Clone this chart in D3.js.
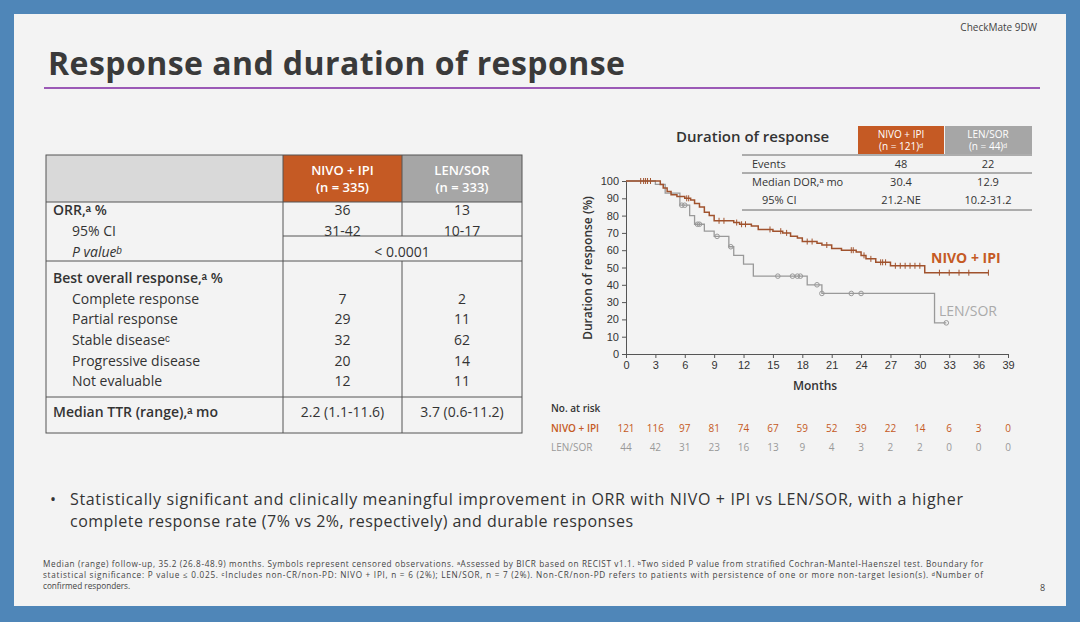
<!DOCTYPE html><html><head><meta charset="utf-8"><script src="https://cdn.jsdelivr.net/npm/d3@7"></script>
<style>body{margin:0;background:#4f86b8}svg{display:block;font-family:"Open Sans",sans-serif}</style></head><body><svg id="s" width="1080" height="622"></svg>
<script>
const nivoKM=[[0,100],[3.5,98],[3.8,96],[4.2,94],[4.6,92],[5.2,91],[6,90],[6.6,89],[7,87],[7.5,85],[8,82],[8.5,80],[9,77],[11,76],[11.6,75],[12.8,74],[13.5,72],[15,71],[16,70],[16.8,68],[17.5,67],[18,65],[19.5,64],[20,63],[21,61],[22,60],[23.5,59],[24,57],[24.5,55],[25.5,53],[27,51],[30.5,47],[37,47]];
const lenKM=[[0,100],[3,98],[4,93],[5.5,86],[6.5,80],[7,75],[8,71],[9,68],[10.5,62],[11,57],[12,52],[13,45],[18.5,40],[20,35],[31.5,18],[32.7,18]];
const nivoCens=[1.5,1.8,2,2.2,2.5,6.2,6.4,9.5,10,11.3,11.8,12.2,14.7,15.8,16.4,18.5,19,20.5,23,23.2,24.3,25,26,26.2,26.5,27.5,28,28.5,29,29.5,30,32,33,34,35,37];
const lenCens=[5.7,6,7.3,7.5,9.3,10.7,15.5,17,17.5,17.8,19.5,20,23,24,32.7];
const xTicks=d3.range(0,40,3), yTicks=d3.range(0,101,10);
const atRiskNivo=[121,116,97,81,74,67,59,52,39,22,14,6,3,0];
const atRiskLen=[44,42,31,23,16,13,9,4,3,2,2,0,0,0];
const rowLabels=["ORR,ᵃ %","95% CI","P valueᵇ","Best overall response,ᵃ %","Complete response","Partial response","Stable diseaseᶜ","Progressive disease","Not evaluable","Median TTR (range),ᵃ mo"];
const nivoVals=["36","31-42","< 0.0001","","7","29","32","20","12","2.2 (1.1-11.6)"];
const lenVals=["13","10-17","","","2","11","62","14","11","3.7 (0.6-11.2)"];
const OR="#c55a24", GR="#a6a6a6";
const s=d3.select("#s");
s.append("rect").attr("x",14).attr("y",14).attr("width",1052).attr("height",592).attr("fill","#f3f3f3");
s.append("text").attr("x",1037).attr("y",31).attr("text-anchor","end").attr("font-size",10).attr("fill","#444").text("CheckMate 9DW");
s.append("text").attr("x",48).attr("y",75).attr("font-size",32).attr("font-weight",700).attr("fill","#3a3a3a").attr("textLength",577).text("Response and duration of response");
s.append("line").attr("x1",44).attr("x2",1040).attr("y1",88).attr("y2",88).attr("stroke","#9b59b6").attr("stroke-width",2);
// table
s.append("rect").attr("x",283).attr("y",155).attr("width",119).attr("height",47).attr("fill",OR);
s.append("rect").attr("x",402).attr("y",155).attr("width",120).attr("height",47).attr("fill",GR);
s.append("rect").attr("x",46).attr("y",155).attr("width",237).attr("height",47).attr("fill","#d9d9d9");
[["NIVO + IPI",342.5],["LEN/SOR",462]].forEach((d,i)=>{
 s.append("text").attr("x",d[1]).attr("y",175).attr("text-anchor","middle").attr("font-size",13).attr("font-weight",600).attr("fill","#fff").text(d[0]);
 s.append("text").attr("x",d[1]).attr("y",192).attr("text-anchor","middle").attr("font-size",13).attr("font-weight",600).attr("fill","#fff").text(i?"(n = 333)":"(n = 335)");});
const g=s.append("g").attr("stroke","#555").attr("stroke-width",1);
g.append("rect").attr("x",46).attr("y",155).attr("width",476).attr("height",278).attr("fill","none");
[202,261,397].forEach(y=>g.append("line").attr("x1",46).attr("x2",522).attr("y1",y).attr("y2",y));
g.append("line").attr("x1",283).attr("x2",283).attr("y1",155).attr("y2",433);
g.append("line").attr("x1",402).attr("x2",402).attr("y1",155).attr("y2",236);
g.append("line").attr("x1",283).attr("x2",522).attr("y1",236).attr("y2",236);
g.append("line").attr("x1",402).attr("x2",402).attr("y1",261).attr("y2",433);
const ry=[218,239,260,286,307,327,348,369,389,420];
rowLabels.forEach((l,i)=>{
 const head=[0,3,9].includes(i);
 s.append("text").attr("x",head?53:72).attr("y",ry[i]-3).attr("font-size",14).attr("font-weight",head?600:400).attr("fill","#333").attr("font-style",i==2?"italic":null).text(l);
 if(i==2){s.append("text").attr("x",402).attr("y",ry[i]-3).attr("text-anchor","middle").attr("font-size",14).attr("fill","#333").text(nivoVals[i]);}
 else{s.append("text").attr("x",342.5).attr("y",ry[i]-3).attr("text-anchor","middle").attr("font-size",14).attr("fill","#333").text(nivoVals[i]);
 s.append("text").attr("x",462).attr("y",ry[i]-3).attr("text-anchor","middle").attr("font-size",14).attr("fill","#333").text(lenVals[i]);}
});
// KM
const x=d3.scaleLinear().domain([0,39]).range([626,1008]), y=d3.scaleLinear().domain([0,100]).range([354,181]);
s.append("g").attr("transform","translate(0,354)").call(d3.axisBottom(x).tickValues(xTicks).tickSize(4)).call(a=>a.selectAll("text").attr("font-size",11).attr("fill","#333"));
s.append("g").attr("transform","translate(626,0)").call(d3.axisLeft(y).tickValues(yTicks).tickSize(4)).call(a=>a.selectAll("text").attr("font-size",11).attr("fill","#333"));
s.selectAll(".domain,.tick line").attr("stroke","#555");
s.append("text").attr("x",815).attr("y",390).attr("text-anchor","middle").attr("font-size",12).attr("font-weight",600).attr("fill","#333").text("Months");
s.append("text").attr("transform","translate(592,268) rotate(-90)").attr("text-anchor","middle").attr("font-size",12).attr("font-weight",600).attr("fill","#333").text("Duration of response (%)");
const line=d3.line().x(d=>x(d[0])).y(d=>y(d[1])).curve(d3.curveStepAfter);
const step=(km,t)=>{let v=100;km.forEach(d=>{if(d[0]<=t)v=d[1]});return v;};
s.append("path").attr("d",line(lenKM)).attr("fill","none").attr("stroke","#999").attr("stroke-width",1.3);
lenCens.forEach(t=>s.append("circle").attr("cx",x(t)).attr("cy",y(step(lenKM,t))).attr("r",2.3).attr("fill","none").attr("stroke","#999"));
s.append("path").attr("d",line(nivoKM)).attr("fill","none").attr("stroke","#a0522d").attr("stroke-width",1.5);
nivoCens.forEach(t=>s.append("line").attr("x1",x(t)).attr("x2",x(t)).attr("y1",y(step(nivoKM,t))-3).attr("y2",y(step(nivoKM,t))+3).attr("stroke","#a0522d"));
s.append("text").attr("x",931).attr("y",263).attr("font-size",14).attr("font-weight",700).attr("fill",OR).text("NIVO + IPI");
s.append("text").attr("x",939).attr("y",316).attr("font-size",14).attr("fill","#aaa").text("LEN/SOR");
// DOR table
s.append("text").attr("x",676).attr("y",142).attr("font-size",15).attr("font-weight",600).attr("fill","#333").text("Duration of response");
s.append("rect").attr("x",858).attr("y",126).attr("width",86).attr("height",28).attr("fill",OR);
s.append("rect").attr("x",945).attr("y",126).attr("width",87).attr("height",28).attr("fill",GR);
[["NIVO + IPI","(n = 121)ᵈ",901],["LEN/SOR","(n = 44)ᵈ",988]].forEach(d=>{
 s.append("text").attr("x",d[2]).attr("y",138).attr("text-anchor","middle").attr("font-size",10).attr("fill","#fff").text(d[0]);
 s.append("text").attr("x",d[2]).attr("y",150).attr("text-anchor","middle").attr("font-size",10).attr("fill","#fff").text(d[1]);});
[155,173,210].forEach(yy=>s.append("line").attr("x1",742).attr("x2",1032).attr("y1",yy).attr("y2",yy).attr("stroke","#666"));
[["Events","48","22",168,752],["Median DOR,ᵃ mo","30.4","12.9",186,752],["95% CI","21.2-NE","10.2-31.2",204,762]].forEach(r=>{
 s.append("text").attr("x",r[4]).attr("y",r[3]).attr("font-size",11).attr("fill","#333").text(r[0]);
 s.append("text").attr("x",901).attr("y",r[3]).attr("text-anchor","middle").attr("font-size",11).attr("fill","#333").text(r[1]);
 s.append("text").attr("x",988).attr("y",r[3]).attr("text-anchor","middle").attr("font-size",11).attr("fill","#333").text(r[2]);});
// at risk
s.append("text").attr("x",551).attr("y",412).attr("font-size",10).attr("font-weight",600).attr("fill","#333").text("No. at risk");
s.append("text").attr("x",551).attr("y",432).attr("font-size",10).attr("font-weight",600).attr("fill",OR).text("NIVO + IPI");
s.append("text").attr("x",551).attr("y",451).attr("font-size",10).attr("fill","#999").text("LEN/SOR");
atRiskNivo.forEach((v,i)=>s.append("text").attr("x",x(xTicks[i])).attr("y",432).attr("text-anchor","middle").attr("font-size",10).attr("fill",OR).text(v));
atRiskLen.forEach((v,i)=>s.append("text").attr("x",x(xTicks[i])).attr("y",451).attr("text-anchor","middle").attr("font-size",10).attr("fill","#999").text(v));
// bullet
s.append("text").attr("x",50).attr("y",505).attr("font-size",16).attr("fill","#333").text("•");
s.append("text").attr("x",70).attr("y",505).attr("font-size",16).attr("fill","#333").attr("textLength",893).text("Statistically significant and clinically meaningful improvement in ORR with NIVO + IPI vs LEN/SOR, with a higher");
s.append("text").attr("x",70).attr("y",527).attr("font-size",16).attr("fill","#333").attr("textLength",563).text("complete response rate (7% vs 2%, respectively) and durable responses");
const fn=["Median (range) follow-up, 35.2 (26.8-48.9) months. Symbols represent censored observations. ᵃAssessed by BICR based on RECIST v1.1. ᵇTwo sided P value from stratified Cochran-Mantel-Haenszel test. Boundary for",
"statistical significance: P value ≤ 0.025. ᶜIncludes non-CR/non-PD: NIVO + IPI, n = 6 (2%); LEN/SOR, n = 7 (2%). Non-CR/non-PD refers to patients with persistence of one or more non-target lesion(s). ᵈNumber of","confirmed responders."];
fn.forEach((t,i)=>s.append("text").attr("x",43).attr("y",567+i*11).attr("font-size",8.2).attr("fill","#444").attr("textLength",i<2?940:null).text(t));
s.append("text").attr("x",1040).attr("y",591).attr("font-size",9).attr("fill","#444").text("8");
</script></body></html>
